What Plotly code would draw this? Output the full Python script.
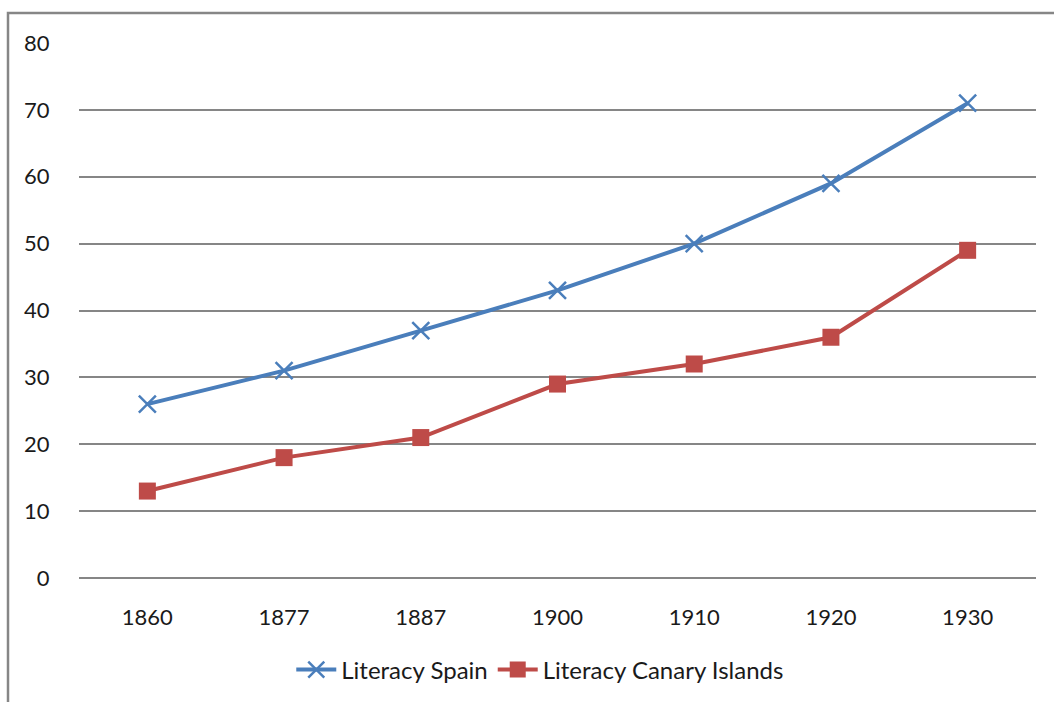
import plotly.graph_objects as go

years = ["1860", "1877", "1887", "1900", "1910", "1920", "1930"]
spain = [26, 31, 37, 43, 50, 59, 71]
canary = [13, 18, 21, 29, 32, 36, 49]
y_ticks = [0, 10, 20, 30, 40, 50, 60, 70, 80]

FONT = "Lato, 'Noto Sans', sans-serif"
GRID = "#868686"

fig = go.Figure()
fig.add_trace(go.Scatter(
    x=years, y=spain, name="Literacy Spain", mode="lines+markers",
    line=dict(color="#4A7EBB", width=4),
    marker=dict(symbol="x-thin", size=17, line=dict(color="#4A7EBB", width=2.5)),
))
fig.add_trace(go.Scatter(
    x=years, y=canary, name="Literacy Canary Islands", mode="lines+markers",
    line=dict(color="#BE4B48", width=4),
    marker=dict(symbol="square", size=17, color="#BE4B48"),
))

fig.update_layout(
    width=1054, height=702,
    margin=dict(l=79, r=18, t=43, b=124, autoexpand=False),
    paper_bgcolor="white", plot_bgcolor="white",
    font=dict(family=FONT, size=22, color="#1a1a1a"),
    showlegend=True,
    legend=dict(orientation="h", x=0.482, xanchor="center", y=-0.172, yanchor="middle",
                font=dict(size=24), itemwidth=40, tracegroupgap=0),
    shapes=[dict(type="rect", xref="paper", yref="paper",
                 x0=(8 - 79) / 957, x1=1.2, y0=-0.4, y1=1 + 30 / 535,
                 line=dict(color=GRID, width=2.5), layer="below")],
)
fig.update_xaxes(type="category", range=[-0.5, len(years) - 0.5],
                 showgrid=False, showline=False, zeroline=False,
                 ticks="outside", ticklen=20, tickcolor="rgba(0,0,0,0)",
                 tickfont=dict(size=22), automargin=False)
fig.update_yaxes(range=[0, 80], tickvals=y_ticks, showgrid=True, gridcolor=GRID,
                 gridwidth=1.5, zeroline=True, zerolinecolor=GRID, zerolinewidth=1.5,
                 showline=False, ticks="outside", ticklen=24,
                 tickcolor="rgba(0,0,0,0)", tickfont=dict(size=22), automargin=False)

fig.write_html("out.html", config={"displayModeBar": False},
               post_script="document.body.style.margin='0';document.body.style.overflow='hidden';")
